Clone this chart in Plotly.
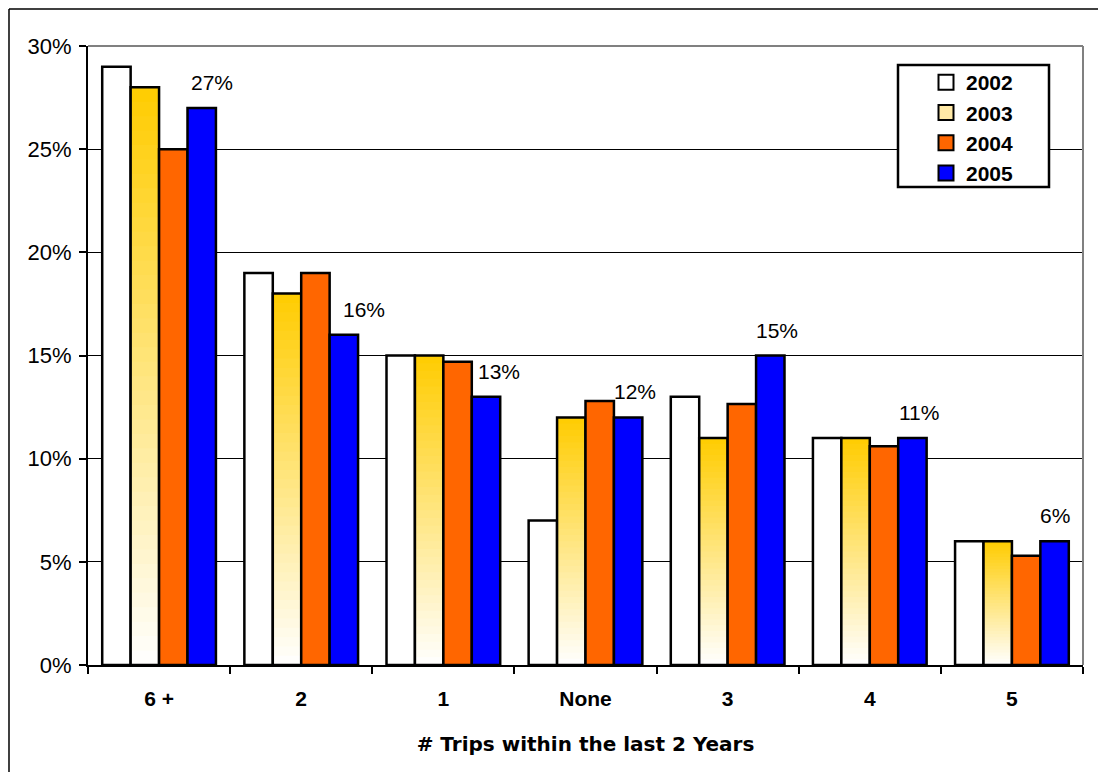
import plotly.graph_objects as go

# Trips data
categories = ["6 +", "2", "1", "None", "3", "4", "5"]
years = ["2002", "2003", "2004", "2005"]
v2002 = [0.29, 0.19, 0.15, 0.07, 0.13, 0.11, 0.06]
v2003 = [0.28, 0.18, 0.15, 0.12, 0.11, 0.11, 0.06]
v2004 = [0.25, 0.19, 0.147, 0.128, 0.1265, 0.106, 0.053]
v2005 = [0.27, 0.16, 0.13, 0.12, 0.15, 0.11, 0.06]

# small manual nudges of the 2005 labels (px), like the original
label_nudge = [10, 20, 13, 7, 7, 7, 0]

colors = ["white", "#FFE9A6", "#FF6600", "#0000FF"]
LINE = dict(color="black", width=2.5)
FONT = "Liberation Sans, Arial"
fig = go.Figure()

# legend entries (square markers, bigger than the default bar swatch)
for yr, col in zip(years, colors):
    fig.add_trace(go.Scatter(x=categories, y=[None] * len(categories),
                             mode="markers", name=yr, hoverinfo="skip",
                             marker=dict(symbol="square", size=15, color=col,
                                         line=dict(color="black", width=2))))

fig.add_trace(go.Bar(x=categories, y=v2002, offsetgroup="2002", showlegend=False,
                     marker=dict(color="white", line=LINE)))

# gradient fill for 2003: overlapping bars, tallest (gold) first, white last
N = 40
top_rgb = (255, 204, 0)
for k in range(N):
    frac = (N - k) / N
    t = (N - k - 0.5) / N
    col = tuple(int(round(255 + (c - 255) * t)) for c in top_rgb)
    fig.add_trace(go.Bar(x=categories, y=[v * frac for v in v2003],
                         offsetgroup="2003", showlegend=False, hoverinfo="skip",
                         marker=dict(color="rgb(%d,%d,%d)" % col, line=dict(width=0))))
fig.add_trace(go.Bar(x=categories, y=v2003, offsetgroup="2003", showlegend=False,
                     marker=dict(color="rgba(0,0,0,0)", line=LINE)))

fig.add_trace(go.Bar(x=categories, y=v2004, offsetgroup="2004", showlegend=False,
                     marker=dict(color="#FF6600", line=LINE)))
fig.add_trace(go.Bar(x=categories, y=v2005, offsetgroup="2005", showlegend=False,
                     marker=dict(color="#0000FF", line=LINE)))

# data labels on 2005 bars
bar_off = 142 * 0.8 / 4 * 1.5
for i, (v, dx) in enumerate(zip(v2005, label_nudge)):
    fig.add_annotation(x=i, y=v, text="%d%%" % round(v * 100), showarrow=False,
                       xshift=bar_off + dx, yshift=12, yanchor="bottom",
                       font=dict(family=FONT, size=21, color="black"))

# gray frame (top/right) of plot area and outer chart border
fig.add_shape(type="line", xref="paper", yref="paper", x0=0, x1=1, y0=1, y1=1,
              line=dict(color="#808080", width=2), layer="above")
fig.add_shape(type="line", xref="paper", yref="paper", x0=1, x1=1, y0=0, y1=1,
              line=dict(color="#808080", width=2), layer="above")
fig.add_shape(type="line", xref="paper", yref="paper", x0=-0.0794, x1=1.1,
              y0=1.0598, y1=1.0598, line=dict(color="black", width=1.5))
fig.add_shape(type="line", xref="paper", yref="paper", x0=-0.0794, x1=-0.0794,
              y0=-0.3, y1=1.0598, line=dict(color="black", width=1.5))
# legend box
fig.add_shape(type="rect", xref="paper", yref="paper",
              x0=(898 - 88) / 995, x1=(1049 - 88) / 995,
              y0=(665 - 187) / 619, y1=(665 - 65) / 619,
              fillcolor="white", line=dict(color="black", width=2.5), layer="above")

fig.update_layout(
    width=1098, height=772,
    margin=dict(l=88, r=15, t=46, b=107),
    paper_bgcolor="white", plot_bgcolor="white",
    barmode="group", bargap=0.2, bargroupgap=0,
    font=dict(family=FONT, color="black"),
    legend=dict(x=(926 - 88) / 995, y=(665 - 62) / 619, xanchor="left", yanchor="top",
                bgcolor="rgba(0,0,0,0)", borderwidth=0,
                font=dict(family=FONT, size=21, color="black", weight="bold"),
                itemwidth=30, tracegroupgap=0),
)
fig.update_yaxes(range=[0, 0.30], dtick=0.05, tickformat=".0%",
                 showline=True, linecolor="black", linewidth=2,
                 ticks="outside", ticklen=7, tickwidth=2, tickcolor="black",
                 showgrid=True, gridcolor="black", gridwidth=1,
                 zeroline=False, ticklabelstandoff=3,
                 tickfont=dict(family=FONT, size=22))
fig.update_xaxes(type="category", showline=True, linecolor="black", linewidth=2,
                 ticks="outside", ticklen=7, tickwidth=2, tickcolor="black",
                 tickson="boundaries", ticklabelstandoff=14,
                 tickfont=dict(family=FONT, size=21, weight="bold"),
                 title=dict(text="# Trips within the last 2 Years", standoff=28,
                            font=dict(family="DejaVu Sans", size=20, weight="bold")))

fig.write_html("out.html", config={"displayModeBar": False},
               post_script="document.body.style.margin='0';")
